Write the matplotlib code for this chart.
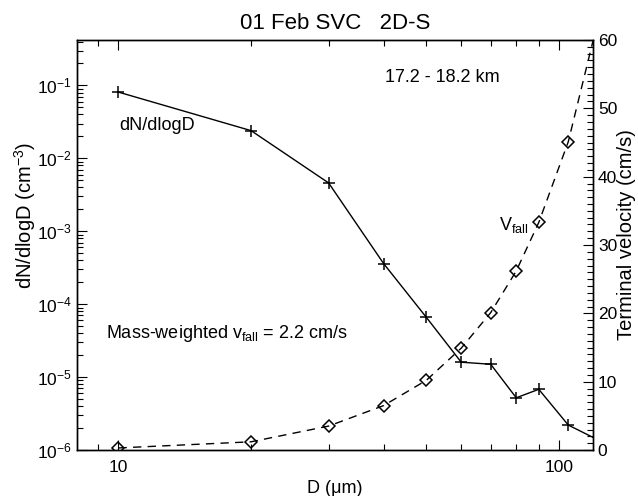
import matplotlib
matplotlib.use('Agg')
import matplotlib.pyplot as plt
from matplotlib.ticker import LogLocator, MultipleLocator, NullFormatter, FixedLocator, FixedFormatter

plt.rcParams['font.family'] = ['Liberation Sans', 'DejaVu Sans']
plt.rcParams['mathtext.fontset'] = 'custom'
plt.rcParams['mathtext.rm'] = 'Liberation Sans'
plt.rcParams['mathtext.it'] = 'Liberation Sans'
plt.rcParams['mathtext.default'] = 'regular'

# Data
D = [10, 20, 30, 40, 50, 60, 70, 80, 90, 105, 125]
dndlogd = [0.081, 0.024, 4.6e-3, 3.6e-4, 6.6e-5, 1.6e-5, 1.5e-5, 5.2e-6, 6.8e-6, 2.2e-6, 1.3e-6]
vfall = [0.3, 1.2, 3.5, 6.5, 10.2, 14.9, 20.1, 26.2, 33.3, 45.1, 65.0]
xticks = [10, 100]
xticklabels = ['10', '100']

W, H = 638, 496
fig = plt.figure(figsize=(W / 100, H / 100), dpi=100)
ax = fig.add_axes([77 / W, 46 / H, 516 / W, 410 / H])

ax.plot(D, dndlogd, color='black', lw=1.0, marker='+', ms=8, mew=1.1)
ax.set_xscale('log')
ax.set_yscale('log')
ax.set_xlim(8.05, 119.5)
ax.set_ylim(1e-6, 0.42)

ax.xaxis.set_major_locator(FixedLocator(xticks))
ax.xaxis.set_major_formatter(FixedFormatter(xticklabels))
ax.xaxis.set_minor_locator(LogLocator(base=10, subs=range(2, 10), numticks=20))
ax.xaxis.set_minor_formatter(NullFormatter())
ax.yaxis.set_minor_locator(LogLocator(base=10, subs=range(2, 10), numticks=20))
ax.yaxis.set_minor_formatter(NullFormatter())

ax.tick_params(which='both', direction='in', top=True, right=False, labelsize=12.5, width=0.8)
ax.tick_params(which='major', length=7.5)
ax.tick_params(which='minor', length=4)
ax.tick_params(axis='x', which='major', pad=7)

ax.set_title('01 Feb SVC   2D-S', fontsize=16, pad=8)
ax.set_xlabel('D (\u03bcm)', fontsize=13, labelpad=4)

ax2 = ax.twinx()
ax2.plot(D, vfall, color='black', lw=1.0, ls=(0, (6, 4.5)), marker='D', ms=6,
         mfc='none', mec='black', mew=1.1)
ax2.set_ylim(0, 60)
ax2.yaxis.set_major_locator(MultipleLocator(10))
ax2.yaxis.set_minor_locator(MultipleLocator(1))
ax2.tick_params(which='both', direction='in', labelsize=12.5, width=0.8)
ax2.tick_params(which='major', length=7.5)
ax2.tick_params(which='minor', length=4)

for a in (ax, ax2):
    for s in a.spines.values():
        s.set_linewidth(1.0)

def fx(px):
    return px / W

def fy(py):
    return 1 - py / H

fig.text(fx(25), fy(215), 'dN/dlogD (cm$^{-3}$)', fontsize=14.5, rotation=90,
         ha='center', va='center')
fig.text(fx(627), fy(235), 'Terminal velocity (cm/s)', fontsize=14.5, rotation=90,
         ha='center', va='center')

fig.text(fx(385), fy(78), '17.2 - 18.2 km', fontsize=13, ha='left', va='center')
fig.text(fx(119), fy(125), 'dN/dlogD', fontsize=13, ha='left', va='center')
fig.text(fx(499), fy(225), 'V$_{fall}$', fontsize=13, ha='left', va='center')
fig.text(fx(106), fy(334), 'Mass-weighted v$_{fall}$ = 2.2 cm/s', fontsize=13,
         ha='left', va='center')

fig.savefig('out.png', dpi=100)
